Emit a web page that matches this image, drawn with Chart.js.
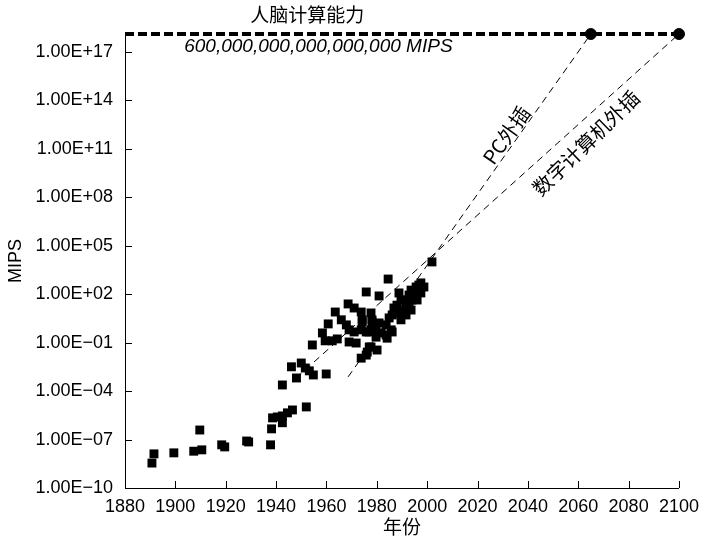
<!DOCTYPE html>
<html>
<head>
<meta charset="utf-8">
<script src="https://cdn.jsdelivr.net/npm/chart.js@4"></script>
<style>
  html, body { margin: 0; padding: 0; background: #fff; }
  canvas { display: block; }
</style>
</head>
<body>
<canvas id="chart" width="707" height="540"></canvas>
<script>
// Machine computing power (MIPS) per year, log scale, with two extrapolations
// up to the estimated computing power of the human brain.

const xTicks = [1880, 1900, 1920, 1940, 1960, 1980, 2000, 2020, 2040, 2060, 2080, 2100];
const yTicks = [1e-10, 1e-7, 1e-4, 1e-1, 1e2, 1e5, 1e8, 1e11, 1e14, 1e17];

const machineYears = [
  1890.7, 1891.5, 1899.4, 1907.3, 1909.7, 1910.5, 1918.4, 1919.6, 1928.3, 1929.1,
  1937.8, 1938.2, 1938.6, 1940.5, 1942.5, 1944.5, 1946.5, 1942.5, 1952.0, 1942.5,
  1946.1, 1948.1, 1950.0, 1951.6, 1953.2, 1954.8, 1959.9, 1954.4, 1959.5, 1962.3,
  1964.3, 1969.0, 1971.8, 1968.6, 1971.0, 1973.8, 1963.5, 1977.7, 1960.7, 1965.9,
  1967.9, 1969.0, 1971.0, 1973.8, 1975.8, 1977.7, 1974.2, 1978.1, 1958.4, 1977.7,
  1976.2, 1973.8, 1979.7, 1984.5, 1975.8, 1980.9, 1988.8, 1996.7, 1995.9, 1994.8,
  1994.0, 1992.8, 1991.6, 1990.0, 1988.8, 1987.6, 1986.1, 1984.9, 1974.2, 1978.1,
  1980.9, 1983.7, 1985.7, 1986.1, 1977.0, 1979.7, 1981.7, 1983.7, 1984.1, 1977.0,
  1980.1, 1975.8, 1990.8, 1992.8, 1993.6, 1995.6, 1997.5, 1998.7, 1988.0, 1986.8,
  1989.6, 1989.6, 1991.6, 1993.6, 1996.0, 1997.5, 2001.9
];
const machineMips = [
  3.5e-9, 1.3e-8, 1.5e-8, 1.9e-8, 3.9e-7, 2.3e-8, 4.7e-8, 3.5e-8, 8.1e-8, 7.1e-8,
  4.7e-8, 4.6e-7, 2.2e-6, 2.5e-6, 2.9e-6, 4.5e-6, 6.8e-6, 1.1e-6, 1.05e-5, 2.4e-4,
  3.2e-3, 6.5e-4, 5.5e-3, 2.7e-3, 1.8e-3, 1.0e-3, 1.15e-3, 7.2e-2, 0.13, 0.13,
  0.17, 0.11, 9.5e-2, 25, 14, 7.9, 7.9, 6.9, 1.45, 2.6,
  1.26, 0.62, 0.46, 0.62, 0.46, 0.62, 1.9, 1.9, 0.40, 5.4e-2,
  2.6e-2, 1.1e-2, 0.22, 870, 138, 78, 120, 370, 180, 89,
  44, 29, 16, 10.5, 7.9, 6.9, 5.2, 3.4, 2.6, 2.6,
  1.66, 1.26, 0.62, 0.46, 0.46, 0.62, 0.40, 0.30, 0.19, 5.4e-2,
  3.5e-2, 1.7e-2, 44, 89, 180, 280, 500, 280, 21, 14,
  44, 2.6, 5.2, 10.5, 44, 120, 1.0e4
];

// human brain: 600,000,000,000,000,000 MIPS (line as drawn on the chart)
const brainMips = 1.3e18;
const brainYears = [1880, 2100];
const reachYears = [2065, 2100];

const pcYears = [1968.6, 2065];
const pcMips = [7.6e-4, 1.3e18];
const digitalYears = [1948.0, 2100];
const digitalMips = [6.5e-4, 1.3e18];

const LATIN = '"Liberation Sans", Arial, sans-serif';
const CJK = '"Noto Sans CJK SC", sans-serif';

const fmtE = (v) => {
  const e = Math.round(Math.log10(v));
  return '1.00E' + (e < 0 ? '\u2212' : '+') + String(Math.abs(e)).padStart(2, '0');
};

const pts = (xs, ys) => xs.map((x, i) => ({ x, y: Array.isArray(ys) ? ys[i] : ys }));

// tick marks pointing into the plot, plus the annotation texts
const decor = {
  id: 'decor',
  afterDraw(chart) {
    const { ctx, scales: { x, y } } = chart;
    ctx.save();
    ctx.strokeStyle = '#000';
    ctx.lineWidth = 1;
    ctx.beginPath();
    yTicks.forEach(v => {
      const py = Math.round(y.getPixelForValue(v)) + 0.5;
      ctx.moveTo(x.left, py); ctx.lineTo(x.left + 7, py);
    });
    xTicks.forEach(v => {
      const px = Math.round(x.getPixelForValue(v)) + 0.5;
      ctx.moveTo(px, y.bottom); ctx.lineTo(px, y.bottom - 7);
    });
    ctx.stroke();

    ctx.fillStyle = '#000';
    ctx.textAlign = 'center';
    ctx.textBaseline = 'middle';
    const by = y.getPixelForValue(brainMips);
    ctx.font = '19px ' + CJK;
    ctx.fillText('人脑计算能力', x.getPixelForValue(1952.4), by - 19);
    ctx.font = 'italic 19px ' + LATIN;
    ctx.fillText('600,000,000,000,000,000 MIPS', x.getPixelForValue(1956.8), by + 13);

    const along = (xs, ys) => {
      const dx = x.getPixelForValue(xs[1]) - x.getPixelForValue(xs[0]);
      const dy = y.getPixelForValue(ys[1]) - y.getPixelForValue(ys[0]);
      return Math.atan2(dy, dx);
    };
    const label = (text, xv, yv, ang) => {
      ctx.save();
      ctx.translate(x.getPixelForValue(xv), y.getPixelForValue(yv));
      ctx.rotate(ang);
      ctx.fillText(text, 0, 0);
      ctx.restore();
    };
    ctx.font = '20px ' + CJK;
    label('PC外插', 2031.5, 7e11, along(pcYears, pcMips));
    label('数字计算机外插', 2063, 2.3e11, along(digitalYears, digitalMips) - 0.04);
    ctx.restore();
  }
};

new Chart(document.getElementById('chart'), {
  type: 'scatter',
  data: {
    datasets: [
      {
        data: pts(brainYears, brainMips),
        showLine: true, borderColor: '#000', borderWidth: 4, borderDash: [9, 4],
        pointRadius: 0, clip: false
      },
      {
        data: pts(pcYears, pcMips),
        showLine: true, borderColor: '#000', borderWidth: 1, borderDash: [7, 5],
        pointRadius: 0
      },
      {
        data: pts(digitalYears, digitalMips),
        showLine: true, borderColor: '#000', borderWidth: 1, borderDash: [7, 5],
        pointRadius: 0
      },
      {
        data: pts(reachYears, brainMips),
        pointStyle: 'circle', pointRadius: 5.5, backgroundColor: '#000', borderColor: '#000',
        clip: false
      },
      {
        data: pts(machineYears, machineMips),
        pointStyle: 'rect', pointRadius: 6.3, backgroundColor: '#000', borderColor: '#000',
        borderWidth: 0
      }
    ]
  },
  options: {
    responsive: false,
    animation: false,
    devicePixelRatio: 1,
    layout: { padding: { top: 34, right: 26, left: 0, bottom: 0 } },
    plugins: { legend: { display: false }, tooltip: { enabled: false } },
    scales: {
      x: {
        type: 'linear', min: 1880, max: 2100,
        afterFit: (s) => { s.height = 52; },
        afterBuildTicks: (s) => { s.ticks = xTicks.map(v => ({ value: v })); },
        grid: { display: false, drawTicks: false },
        border: { display: true, color: '#000', width: 1 },
        ticks: {
          color: '#000', font: { family: LATIN, size: 18 }, padding: 8, maxRotation: 0, autoSkip: false,
          callback: (v) => String(v)
        },
        title: { display: true, text: '年份', color: '#000', font: { family: CJK, size: 19 }, padding: { top: 0, bottom: 2 } }
      },
      y: {
        type: 'logarithmic', min: 1e-10, max: brainMips,
        afterFit: (s) => { s.width = 125; },
        afterBuildTicks: (s) => { s.ticks = yTicks.map(v => ({ value: v })); },
        grid: { display: false, drawTicks: false },
        border: { display: true, color: '#000', width: 1 },
        ticks: { color: '#000', font: { family: LATIN, size: 18 }, padding: 12, autoSkip: false, callback: fmtE },
        title: { display: true, text: 'MIPS', color: '#000', font: { family: LATIN, size: 18 }, padding: { top: 5, bottom: 0 } }
      }
    }
  },
  plugins: [decor]
});
</script>
</body>
</html>
